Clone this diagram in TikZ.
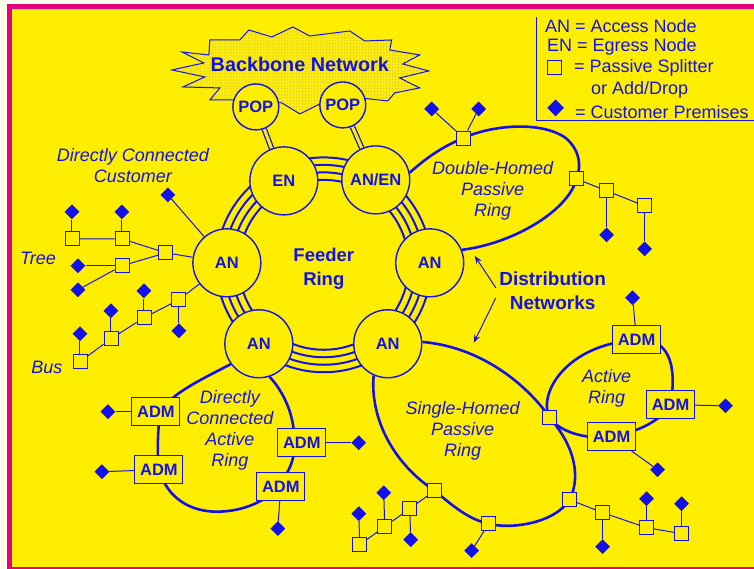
\documentclass[tikz,border=0pt]{standalone}
\usepackage{fontspec}
\setmainfont{Liberation Sans}
\usetikzlibrary{shapes.geometric,arrows.meta,backgrounds,patterns}
\definecolor{netblue}{RGB}{18,18,232}
\definecolor{sheet}{RGB}{255,238,0}
\definecolor{rim}{RGB}{228,0,126}
\definecolor{paper}{RGB}{255,253,236}

\begin{document}
\begin{tikzpicture}[x=1pt,y=-1pt,
    every node/.style={text=netblue},
    hub/.style={circle,draw=netblue,line width=1.4pt,fill=sheet,minimum size=68pt,
      inner sep=0pt,font=\fontsize{16.5}{18}\selectfont\bfseries},
    pop/.style={hub,minimum size=46pt},
    admbox/.style={rectangle,draw=netblue,line width=0.9pt,fill=sheet,minimum width=48pt,
      minimum height=28pt,inner sep=0pt,font=\fontsize{16.5}{18}\selectfont\bfseries},
    split/.style={rectangle,draw=netblue,line width=0.8pt,fill=sheet,minimum size=14pt,inner sep=0pt},
    prem/.style={diamond,fill=netblue,minimum size=15pt,inner sep=0pt},
    ringline/.style={draw=netblue,line width=2.6pt},
    tapline/.style={draw=netblue,line width=1pt},
    itlabel/.style={align=center,font=\fontsize{18}{21}\selectfont\itshape},
    bflabel/.style={align=center,font=\fontsize{19}{24}\selectfont\bfseries},
    keytext/.style={anchor=west,font=\fontsize{18}{20}\selectfont}]
  \begin{scope}[on background layer]
    \fill[paper] (0,0) rectangle (754,569);
    \fill[rim] (7,4) rectangle (754,569);
    \fill[sheet] (12,9) rectangle (754,567);
  \end{scope}

  \draw[netblue,line width=1pt,preaction={fill=sheet},pattern=dots,pattern color=netblue!50]
    (172,70) -- (204,63) -- (182,52) -- (209,55) -- (210,40) -- (240,40) -- (249,30)
    -- (272,37) -- (293,27) -- (310,36) -- (350,31) -- (365,41) -- (392,40) -- (390,50)
    -- (420,55) -- (403,64) -- (429,71) -- (400,78) -- (420,88) -- (395,93) -- (388,101)
    -- (360,98) -- (345,100) -- (320,104) -- (300,114) -- (282,103) -- (262,100)
    -- (210,100) -- (220,88) -- (183,87) -- (205,77) -- cycle;
  \node[bflabel,font=\fontsize{19.8}{22}\selectfont\bfseries] (bbone) at (300,64) {Backbone Network};

  \coordinate (fc) at (324,265);
  \node[pop] (pop1) at (256,107) {POP};
  \node[pop] (pop2) at (343,105) {POP};
  \node[hub] (en) at (284,181) {EN};
  \node[hub] (anen) at (376,180) {AN/EN};
  \node[hub] (anr) at (430,263) {AN};
  \node[hub] (anbr) at (388,344) {AN};
  \node[hub] (anbl) at (259,344) {AN};
  \node[hub] (anl) at (227,263) {AN};
  \node[bflabel,font=\fontsize{18.5}{24}\selectfont\bfseries] (feeder) at (324,269) {Feeder\\Ring};

  \node[itlabel] (dcclbl) at (133,166) {Directly Connected\\Customer};
  \node[prem] (dcc) at (168,195) {};
  \node[itlabel] (treelbl) at (38,259) {Tree};
  \node[split] (tr0) at (166,253) {};
  \node[split] (tr1) at (122,239) {};
  \node[split] (tr2) at (122,266) {};
  \node[split] (tr3) at (72,239) {};
  \node[prem] (ctr3) at (72,212) {};
  \node[prem] (ctr1) at (122,212) {};
  \node[prem] (ctr2a) at (78,266) {};
  \node[prem] (ctr2b) at (78,290) {};
  \node[itlabel] (buslbl) at (47,368) {Bus};
  \node[split] (bs0) at (179,300) {};
  \node[split] (bs1) at (144,318) {};
  \node[split] (bs2) at (111,339) {};
  \node[split] (bs3) at (80,362) {};
  \node[prem] (cbs0) at (179,331) {};
  \node[prem] (cbs1) at (144,291) {};
  \node[prem] (cbs2) at (111,311) {};
  \node[prem] (cbs3) at (80,334) {};

  \node[itlabel] (dhlbl) at (493,191) {Double-Homed\\Passive\\Ring};
  \node[split] (dh1) at (464,138) {};
  \node[split] (dh2) at (577,179) {};
  \node[split] (dh3) at (607,191) {};
  \node[split] (dh4) at (645,206) {};
  \node[prem] (cdh1a) at (432,109) {};
  \node[prem] (cdh1b) at (479,109) {};
  \node[prem] (cdh3) at (607,235) {};
  \node[prem] (cdh4) at (645,249) {};

  \node[bflabel] (dist) at (553,291) {Distribution\\Networks};
  \coordinate (dnup) at (475,256);
  \coordinate (dndown) at (474,343);

  \node[itlabel] (dcalbl) at (230,431) {Directly\\Connected\\Active\\Ring};
  \node[admbox] (adm1) at (156,412) {ADM};
  \node[admbox] (adm2) at (159,470) {ADM};
  \node[admbox] (adm3) at (302,443) {ADM};
  \node[admbox] (adm4) at (281,487) {ADM};
  \node[prem] (cadm1) at (108,412) {};
  \node[prem] (cadm2) at (102,472) {};
  \node[prem] (cadm3) at (359,443) {};
  \node[prem] (cadm4) at (278,529) {};

  \node[itlabel] (shlbl) at (463,431) {Single-Homed\\Passive\\Ring};
  \node[split] (sh1) at (435,491) {};
  \node[split] (sh2) at (489,524) {};
  \node[split] (sh3) at (570,500) {};
  \node[split] (sh4) at (550,418) {};
  \node[split] (sp1) at (410,509) {};
  \node[split] (sp2) at (385,527) {};
  \node[split] (sp3) at (360,545) {};
  \node[prem] (csp1) at (411,540) {};
  \node[prem] (csp2) at (384,493) {};
  \node[prem] (csp3) at (359,514) {};
  \node[prem] (csh2) at (472,551) {};
  \node[split] (sq1) at (603,513) {};
  \node[split] (sq2) at (647,528) {};
  \node[split] (sq3) at (682,534) {};
  \node[prem] (csq1) at (603,547) {};
  \node[prem] (csq2) at (647,499) {};
  \node[prem] (csq3) at (682,504) {};

  \node[itlabel] (arlbl) at (607,389) {Active\\Ring};
  \node[admbox] (aa1) at (637,340) {ADM};
  \node[admbox] (aa2) at (671,405) {ADM};
  \node[admbox] (aa3) at (612,437) {ADM};
  \node[prem] (caa1) at (633,298) {};
  \node[prem] (caa2) at (726,406) {};
  \node[prem] (caa3) at (658,470) {};

  \node[keytext] (keyan) at (542,26) {AN = Access Node};
  \node[keytext] (keyen) at (544,47) {EN = Egress Node};
  \node[split] (keysq) at (555,67) {};
  \node[keytext] (keyps) at (571,68) {= Passive Splitter};
  \node[keytext] (keyad) at (588,90) {or Add/Drop};
  \node[prem,minimum size=17pt] (keydm) at (556,108) {};
  \node[keytext] (keycp) at (572,112) {= Customer Premises};
  \draw[netblue,line width=1pt] (537,17) -- (537,121) -- (754,121);

  \draw[netblue,line width=1pt,-{Stealth[length=8pt,width=6pt]}] ([yshift=3pt]dist.west) -- (dnup);
  \draw[netblue,line width=1pt,-{Stealth[length=8pt,width=6pt]}] ([yshift=-7pt]dist.west) -- (dndown);

  \begin{scope}[on background layer]
    \foreach \r in {85,92.5,100,107.5}
      \draw[netblue,line width=2pt] (fc) circle[radius=\r pt];
    \draw[netblue,line width=1.3pt,double=sheet,double distance=3pt] (pop1) -- (en);
    \draw[netblue,line width=1.3pt,double=sheet,double distance=3pt] (pop2) -- (anen);

    \draw[ringline] (anen.12) .. controls (430,155) and (445,146) .. (dh1.center)
      .. controls (490,126) and (540,120) .. (566,138)
      .. controls (580,150) and (582,165) .. (dh2.center)
      .. controls (568,212) and (512,244) .. (anr.22);
    \draw[ringline] (anbl.216) .. controls (205,378) and (172,393) .. ([xshift=4pt]adm1.center)
      .. controls (158,432) and (157,452) .. (adm2.center)
      .. controls (168,500) and (192,512) .. (217,512)
      .. controls (245,512) and (268,500) .. ([xshift=-2pt]adm4.center)
      .. controls (290,470) and (296,458) .. ([xshift=-8pt]adm3.center)
      .. controls (296,418) and (284,392) .. (anbl.-72);
    \draw[ringline] (anbr.246) .. controls (370,420) and (395,465) .. (sh1.center)
      .. controls (455,508) and (470,520) .. (sh2.center)
      .. controls (510,530) and (555,524) .. (sh3.center)
      .. controls (580,480) and (578,450) .. (sh4.center)
      .. controls (535,395) and (490,348) .. (anbr.3);
    \draw[ringline] (aa1.center) .. controls (668,338) and (678,362) .. (aa2.center)
      .. controls (662,420) and (640,432) .. (aa3.center)
      .. controls (585,440) and (560,432) .. (sh4.center)
      .. controls (538,395) and (565,345) .. (aa1.center);

    \draw[tapline] (dcc) -- (anl);
    \draw[tapline] (anl) -- (tr0);
    \draw[tapline] (tr0) -- (tr1) -- (tr3);
    \draw[tapline] (tr0) -- (tr2);
    \draw[tapline] (tr3) -- (ctr3);
    \draw[tapline] (tr1) -- (ctr1);
    \draw[tapline] (tr2) -- (ctr2a);
    \draw[tapline] (tr2) -- (ctr2b);
    \draw[tapline] (anl) -- (bs0) -- (bs1) -- (bs2) -- (bs3);
    \draw[tapline] (bs0) -- (cbs0);
    \draw[tapline] (bs1) -- (cbs1);
    \draw[tapline] (bs2) -- (cbs2);
    \draw[tapline] (bs3) -- (cbs3);

    \draw[tapline] (dh1) -- (cdh1a);
    \draw[tapline] (dh1) -- (cdh1b);
    \draw[tapline] (dh2) -- (dh3) -- (dh4);
    \draw[tapline] (dh3) -- (cdh3);
    \draw[tapline] (dh4) -- (cdh4);

    \draw[tapline] (adm1) -- (cadm1);
    \draw[tapline] (adm2) -- (cadm2);
    \draw[tapline] (adm3) -- (cadm3);
    \draw[tapline] (adm4) -- (cadm4);

    \draw[tapline] (sh1) -- (sp1) -- (sp2) -- (sp3);
    \draw[tapline] (sp1) -- (csp1);
    \draw[tapline] (sp2) -- (csp2);
    \draw[tapline] (sp3) -- (csp3);
    \draw[tapline] (sh2) -- (csh2);
    \draw[tapline] (sh3) -- (sq1) -- (sq2) -- (sq3);
    \draw[tapline] (sq1) -- (csq1);
    \draw[tapline] (sq2) -- (csq2);
    \draw[tapline] (sq3) -- (csq3);

    \draw[tapline] (aa1) -- (caa1);
    \draw[tapline] (aa2) -- (caa2);
    \draw[tapline] (aa3) -- (caa3);
  \end{scope}
\end{tikzpicture}
\end{document}
